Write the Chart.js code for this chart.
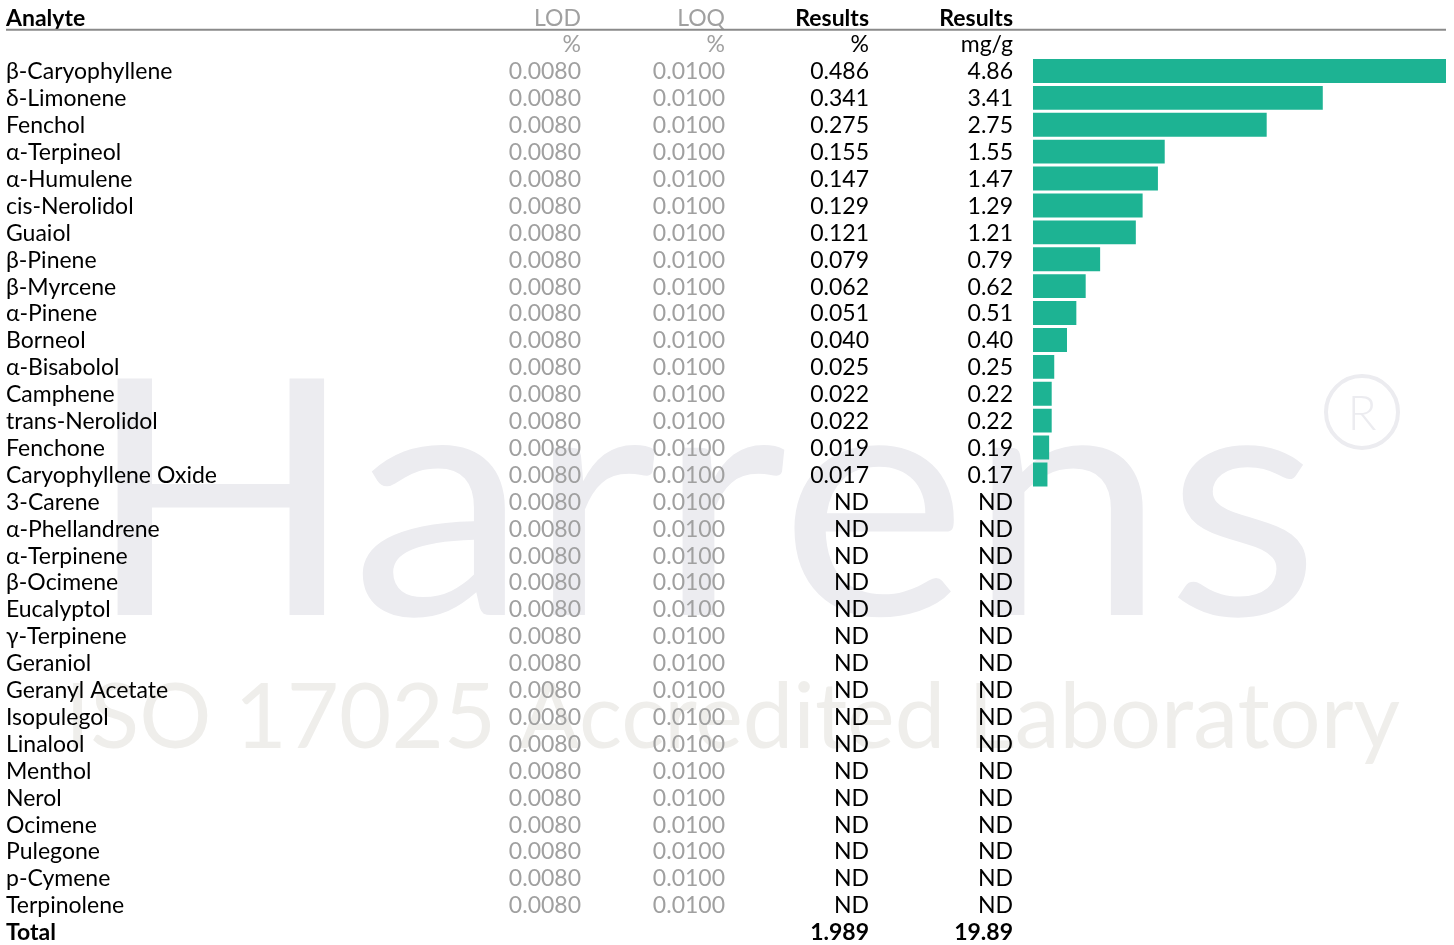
<!DOCTYPE html>
<html>
<head>
<meta charset="utf-8">
<script src="https://cdn.jsdelivr.net/npm/chart.js@4/dist/chart.umd.min.js"></script>
<style>
  html, body { margin: 0; padding: 0; background: #fff; }
  #wrap { position: relative; width: 1454px; height: 945px; }
</style>
</head>
<body>
<div id="wrap"><canvas id="chart"></canvas></div>
<script>
// ── DATA ──────────────────────────────────────────────────────────────────────
const analytes = [
  'β-Caryophyllene', 'δ-Limonene', 'Fenchol', 'α-Terpineol', 'α-Humulene', 'cis-Nerolidol',
  'Guaiol', 'β-Pinene', 'β-Myrcene', 'α-Pinene', 'Borneol', 'α-Bisabolol', 'Camphene',
  'trans-Nerolidol', 'Fenchone', 'Caryophyllene Oxide', '3-Carene', 'α-Phellandrene',
  'α-Terpinene', 'β-Ocimene', 'Eucalyptol', 'γ-Terpinene', 'Geraniol', 'Geranyl Acetate',
  'Isopulegol', 'Linalool', 'Menthol', 'Nerol', 'Ocimene', 'Pulegone', 'p-Cymene', 'Terpinolene'
];
const lodPct = Array(32).fill('0.0080');
const loqPct = Array(32).fill('0.0100');
const resultsPct = [
  '0.486', '0.341', '0.275', '0.155', '0.147', '0.129', '0.121', '0.079', '0.062', '0.051',
  '0.040', '0.025', '0.022', '0.022', '0.019', '0.017',
  'ND', 'ND', 'ND', 'ND', 'ND', 'ND', 'ND', 'ND', 'ND', 'ND', 'ND', 'ND', 'ND', 'ND', 'ND', 'ND'
];
const resultsMg = [
  4.86, 3.41, 2.75, 1.55, 1.47, 1.29, 1.21, 0.79, 0.62, 0.51,
  0.40, 0.25, 0.22, 0.22, 0.19, 0.17,
  null, null, null, null, null, null, null, null, null, null, null, null, null, null, null, null
];
const headers   = ['Analyte', 'LOD', 'LOQ', 'Results', 'Results'];
const units     = ['', '%', '%', '%', 'mg/g'];
const totalRow  = ['Total', '', '', '1.989', '19.89'];

// ── LAYOUT ────────────────────────────────────────────────────────────────────
const colRight = [null, 581, 725, 869, 1013];
const FONT = 'Lato, "Noto Sans", sans-serif';
const GREY = '#a0a0a0';

// stretch a line of text to a given width
function fitText(ctx, txt, x, y, width) {
  const w = ctx.measureText(txt).width;
  ctx.save();
  ctx.translate(x, y);
  ctx.scale(width / w, 1);
  ctx.fillText(txt, 0, 0);
  ctx.restore();
}

const tablePlugin = {
  id: 'table',
  beforeDatasetsDraw(chart) {
    const { ctx } = chart;
    ctx.save();
    // watermark
    ctx.textBaseline = 'alphabetic';
    ctx.textAlign = 'left';
    ctx.fillStyle = '#ececf0';
    ctx.font = '400 330px ' + FONT;
    fitText(ctx, 'Harrens', 85, 615, 1235);
    // registered mark
    ctx.strokeStyle = '#ececf0';
    ctx.lineWidth = 4;
    ctx.beginPath();
    ctx.arc(1362, 412, 36, 0, Math.PI * 2);
    ctx.stroke();
    ctx.font = '300 48px ' + FONT;
    ctx.textAlign = 'center';
    ctx.fillText('R', 1362, 430);
    ctx.textAlign = 'left';
    ctx.fillStyle = '#efeeeb';
    ctx.font = '400 92px ' + FONT;
    fitText(ctx, 'ISO 17025 Accredited Laboratory', 65, 748, 1335);
    ctx.restore();
  },
  afterDatasetsDraw(chart) {
    const { ctx } = chart;
    const y = chart.scales.y;
    const pitch = y.getPixelForValue(1) - y.getPixelForValue(0);
    const y0 = y.getPixelForValue(0);
    const last = y.getPixelForValue(analytes.length - 1);
    ctx.save();
    ctx.textBaseline = 'middle';

    const cell = (txt, col, cy, color, bold) => {
      ctx.font = (bold ? 'bold ' : '') + '23px ' + FONT;
      ctx.fillStyle = color;
      if (col === 0) { ctx.textAlign = 'left'; ctx.fillText(txt, 6, cy + 1); }
      else { ctx.textAlign = 'right'; ctx.fillText(txt, colRight[col], cy + 1); }
    };

    // header
    const hy = y0 - 2 * pitch;
    headers.forEach((h, i) => cell(h, i, hy, (i === 1 || i === 2) ? GREY : '#000', i !== 1 && i !== 2));
    ctx.strokeStyle = '#8a8a8a';
    ctx.lineWidth = 2;
    ctx.beginPath();
    ctx.moveTo(6, hy + 12.5);
    ctx.lineTo(1446, hy + 12.5);
    ctx.stroke();
    units.forEach((u, i) => { if (u) cell(u, i, y0 - pitch, (i === 1 || i === 2) ? GREY : '#000', false); });

    // rows
    analytes.forEach((a, i) => {
      const cy = y.getPixelForValue(i);
      cell(a, 0, cy, '#000', false);
      cell(lodPct[i], 1, cy, GREY, false);
      cell(loqPct[i], 2, cy, GREY, false);
      cell(resultsPct[i], 3, cy, '#000', false);
      cell(resultsMg[i] == null ? 'ND' : resultsMg[i].toFixed(2), 4, cy, '#000', false);
    });

    // total
    totalRow.forEach((t, i) => { if (t) cell(t, i, last + pitch, '#000', true); });
    ctx.restore();
  }
};

new Chart(document.getElementById('chart'), {
  type: 'bar',
  data: {
    labels: analytes,
    datasets: [{
      data: resultsMg,
      backgroundColor: '#1db393',
      borderWidth: 0,
      barPercentage: 0.89,
      categoryPercentage: 1
    }]
  },
  options: {
    indexAxis: 'y',
    responsive: true,
    maintainAspectRatio: false,
    animation: false,
    layout: { padding: { left: 1033, right: 8, top: 57.5, bottom: 26.7 } },
    plugins: { legend: { display: false }, tooltip: { enabled: false } },
    scales: {
      x: { display: false, min: 0, max: Math.max(...resultsMg.filter(v => v != null)) },
      y: { display: false }
    }
  },
  plugins: [tablePlugin]
});
</script>
</body>
</html>
